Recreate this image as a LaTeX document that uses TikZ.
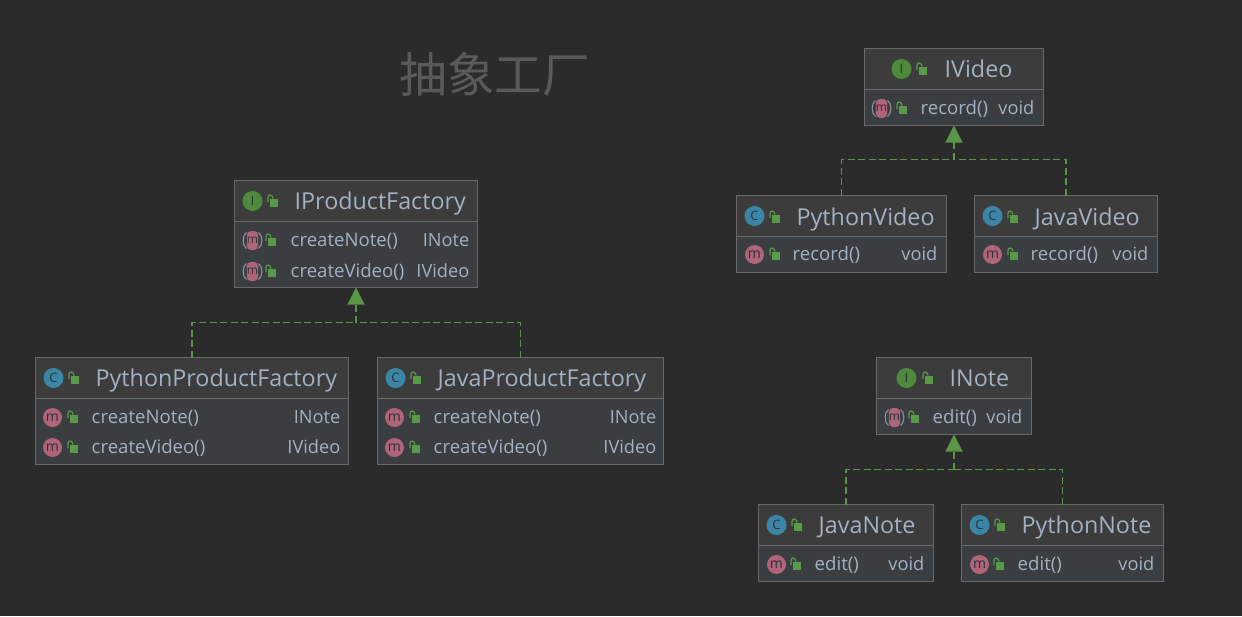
\documentclass[tikz,border=0pt]{standalone}
\usepackage{fontspec}
\setmainfont{Open Sans}
\newfontfamily\cjkfont{Noto Sans CJK SC}
\usetikzlibrary{arrows.meta}
\definecolor{bgc}{HTML}{2B2B2B}
\definecolor{headc}{HTML}{3C3C3C}
\definecolor{bodyc}{HTML}{3A3E41}
\definecolor{edgec}{HTML}{69696A}
\definecolor{textc}{HTML}{A3B1C2}
\definecolor{implc}{HTML}{5A9648}
\definecolor{lockc}{HTML}{589A48}
\definecolor{ifacec}{HTML}{4E8A3C}
\definecolor{classc}{HTML}{3B86A6}
\definecolor{methc}{HTML}{B0647A}
\definecolor{inkc}{HTML}{2C3136}
\definecolor{parenc}{HTML}{8D9499}
\tikzset{
  x=1pt,y=-1pt,
  boxbody/.style={draw=edgec,line width=0.9pt,fill=bodyc,inner sep=0pt,outer sep=0pt,anchor=north west},
  titletext/.style={text=textc,anchor=base west,inner sep=0pt,font=\fontsize{23.3}{26}\selectfont},
  rowtext/.style={text=textc,anchor=base west,inner sep=0pt,font=\fontsize{18.6}{20}\selectfont},
  rowtype/.style={text=textc,anchor=base east,inner sep=0pt,font=\fontsize{18.2}{20}\selectfont},
  badge/.style={circle,minimum size=#1,inner sep=0pt,text=inkc},
  implline/.style={draw=implc,line width=1.1pt,dash pattern=on 7pt off 3.5pt},
  implstem/.style={implline,-{Triangle[length=17pt,width=17pt,fill=implc]}},
  headline/.style={draw=edgec,line width=0.9pt},
}
\newcommand{\classbox}[9]{%
  \node[boxbody,minimum width=#4-#2,minimum height=#5-#3] (#1) at (#2,#3) {};
  \fill[headc] (#2+0.5,#3+0.5) rectangle (#4-0.5,#6);
  \draw[headline] (#2,#6) -- (#4,#6);
  \node[badge=20pt,fill=#7,font=\fontsize{13}{13}\selectfont] (#1-badge) at (#8,{#3+(#6-#3)/2}) {#9};
}
\newcommand{\titlebit}[5]{%
  \locksym{#2}{#3}
  \node[titletext] (#1-title) at (#4,#3+8.2) {#5};
}
\newcommand{\locksym}[2]{%
  \fill[lockc] (#1-4,#2-2.5) rectangle (#1+4.5,#2+5);
  \draw[lockc,line width=1.2pt] (#1-5.5,#2+0.5) -- (#1-5.5,#2-4) .. controls (#1-5.5,#2-7.5) and (#1-1,#2-7.5) .. (#1-0.5,#2-3);
}
\newcommand{\concreteicon}[3]{%
  \node[badge=19pt,fill=methc,font=\fontsize{14}{14}\selectfont] (#1) at (#2,#3) {m};
}
\newcommand{\abstracticon}[3]{%
  \draw[parenc,line width=1.1pt] (#2-6,#3-8) .. controls (#2-10.5,#3-5) and (#2-10.5,#3+5) .. (#2-6,#3+8);
  \draw[parenc,line width=1.1pt] (#2+6,#3-8) .. controls (#2+10.5,#3-5) and (#2+10.5,#3+5) .. (#2+6,#3+8);
  \node[fill=methc,rounded corners=4pt,minimum width=11pt,minimum height=19pt,inner sep=0pt,font=\fontsize{12}{12}\selectfont,text=inkc] (#1) at (#2,#3) {m};
}
\newcommand{\methodrow}[9]{%
  #2{#1-icon}{#3}{#5}
  \locksym{#4}{#5}
  \node[rowtext] (#1-name) at (#6,#5+6) {#7};
  \node[rowtype] (#1-type) at (#8,#5+6) {#9};
}
\begin{document}
\begin{tikzpicture}
\useasboundingbox (-0.5,-0.5) rectangle (1241.5,615.5);
\fill[bgc] (-0.5,-0.5) rectangle (1241.5,615.5);

\node[text=bgc!78!white,anchor=base west,inner sep=0pt,font=\cjkfont\fontsize{47.6}{50}\selectfont] (diagramtitle) at (399,92) {抽象工厂};

\classbox{ipf}{234}{180}{477}{287}{221}{ifacec}{252}{I}
\titlebit{ipf}{273}{201}{294}{IProductFactory}
\methodrow{ipfa}{\abstracticon}{252}{271}{240}{290}{createNote()}{469}{INote}
\methodrow{ipfb}{\abstracticon}{252}{271}{271}{290}{createVideo()}{469}{IVideo}

\classbox{ppf}{35}{357}{348}{464}{398}{classc}{53}{C}
\titlebit{ppf}{74}{378}{95}{PythonProductFactory}
\methodrow{ppfa}{\concreteicon}{52}{73}{417}{91}{createNote()}{340}{INote}
\methodrow{ppfb}{\concreteicon}{52}{73}{447}{91}{createVideo()}{340}{IVideo}

\classbox{jpf}{377}{357}{663}{464}{398}{classc}{395}{C}
\titlebit{jpf}{416}{378}{437}{JavaProductFactory}
\methodrow{jpfa}{\concreteicon}{394}{415}{417}{433}{createNote()}{656}{INote}
\methodrow{jpfb}{\concreteicon}{394}{415}{447}{433}{createVideo()}{656}{IVideo}

\classbox{iv}{864}{48}{1043}{125}{89}{ifacec}{901}{I}
\titlebit{iv}{922}{69}{944}{IVideo}
\methodrow{iva}{\abstracticon}{881}{902}{108}{920}{record()}{1034}{void}

\classbox{pv}{736}{195}{946}{272}{236}{classc}{754}{C}
\titlebit{pv}{775}{217}{796}{PythonVideo}
\methodrow{pva}{\concreteicon}{754}{775}{254}{792}{record()}{937}{void}

\classbox{jv}{974}{195}{1157}{272}{236}{classc}{992}{C}
\titlebit{jv}{1013}{217}{1034}{JavaVideo}
\methodrow{jva}{\concreteicon}{992}{1013}{254}{1030}{record()}{1148}{void}

\classbox{in}{876}{357}{1031}{434}{398}{ifacec}{906}{I}
\titlebit{in}{928}{378}{949}{INote}
\methodrow{ina}{\abstracticon}{894}{914}{417}{932}{edit()}{1022}{void}

\classbox{jn}{758}{504}{933}{581}{545}{classc}{776}{C}
\titlebit{jn}{797}{525}{818}{JavaNote}
\methodrow{jna}{\concreteicon}{776}{796}{564}{814}{edit()}{924}{void}

\classbox{pn}{961}{504}{1163}{581}{545}{classc}{979}{C}
\titlebit{pn}{1000}{525}{1021}{PythonNote}
\methodrow{pna}{\concreteicon}{979}{999}{564}{1017}{edit()}{1154}{void}

\coordinate (jf) at (ipf.south |- 0,322);
\coordinate (jv0) at (iv.south |- 0,159);
\coordinate (jn0) at (in.south |- 0,469);
\draw[implline] (ppf.north) |- (jf);
\draw[implline] (jpf.north) |- (jf);
\draw[implstem] (jf) -- (ipf.south);
\draw[implline] (pv.north) |- (jv0);
\draw[implline] (jv.north) |- (jv0);
\draw[implstem] (jv0) -- (iv.south);
\draw[implline] (jn.north) |- (jn0);
\draw[implline] (pn.north) |- (jn0);
\draw[implstem] (jn0) -- (in.south);
\end{tikzpicture}
\end{document}
